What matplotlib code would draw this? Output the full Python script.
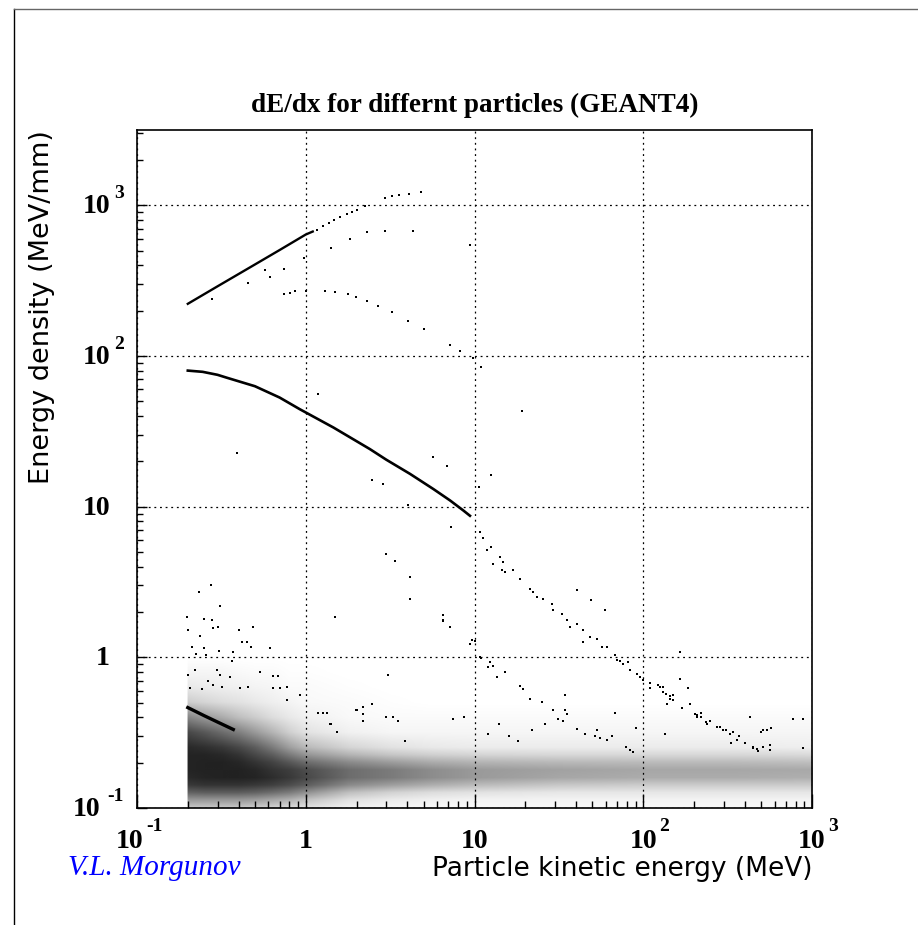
import numpy as np
import matplotlib
matplotlib.use("Agg")
import matplotlib.pyplot as plt
from matplotlib.colors import LinearSegmentedColormap, Normalize
from matplotlib.image import NonUniformImage
from matplotlib.lines import Line2D
from matplotlib.ticker import LogLocator, NullFormatter

# ---- data (energy in MeV, dE/dx in MeV/mm) ----
# continuous parts of the tracks
alpha_line_e = [0.2, 0.3, 0.5, 0.7, 1.0, 1.1]
alpha_line_dedx = [222, 290, 405, 505, 640, 670]
proton_line_e = [0.2, 0.245, 0.3, 0.34, 0.5, 0.7, 0.92, 1.46, 2.4, 3.0, 4.15, 5.7, 7.16, 8.6, 9.4]
proton_line_dedx = [80, 78.5, 75, 71.8, 63, 53, 44.4, 33.5, 24.1, 20.5, 16.5, 13.1, 11.0, 9.42, 8.7]
low_line_e = [0.2, 0.25, 0.3, 0.372]
low_line_dedx = [0.464, 0.41, 0.372, 0.332]

# dotted parts of the tracks
a_dots_e = [1.16, 1.27, 1.37, 1.47, 1.6, 1.75, 1.88, 2.0, 2.24, 2.95, 3.23, 3.58, 4.1, 4.8]
a_dots_dedx = [690, 726, 765, 800, 833, 873, 905, 937, 995, 1117, 1148, 1164, 1190, 1220]
b_dots_e = [0.277, 0.457, 0.574, 0.614, 0.743, 0.97, 1.41, 1.83, 2.30, 2.95, 4.3, 9.4]
b_dots_dedx = [238, 306, 372, 335, 377, 444, 521, 600, 663, 673, 680, 543]
c_dots_e = [0.743, 0.807, 0.86, 1.0, 1.30, 1.49, 1.79, 1.99, 2.32, 2.69, 3.23, 4.06,
            5.02, 7.16, 8.2, 9.8, 11.0, 19.0]
c_dots_dedx = [256, 263, 268, 272, 269, 265, 256, 246, 233, 214, 196, 170,
               150, 119, 108, 97.6, 85, 43]
d_dots_e = [10.8, 11.3, 11.8, 12.6, 12.9, 14.2, 14.8, 14.5, 15.2, 17, 18.6, 21.3, 22.3, 23.4,
            25.5, 28.6, 29.3, 32.8, 35.2, 36.8, 40.3, 44.2, 44.2, 48.4, 53, 56.6, 60.6, 68,
            69.5, 72.8, 76, 81.5, 83.4, 91.4, 95.5, 100, 110, 123, 131, 137, 144, 151, 164,
            169, 185, 189, 203, 207, 219, 237, 248, 272, 285, 298, 327, 342, 357, 430, 449,
            470, 514, 564, 570, 880,
            126, 131, 144, 151, 139, 207, 219, 240, 272, 310, 330, 370, 400, 450, 480, 510,
            560, 540, 500]
d_dots_dedx = [6.77, 6.24, 5.12, 5.37, 4.16, 4.61, 4.27, 3.77, 3.67, 3.77, 3.32, 2.85, 2.71, 2.5,
               2.44, 2.26, 2.05, 1.94, 1.76, 1.59, 1.67, 1.51, 1.26, 1.36, 1.33, 1.17, 1.17, 1.03,
               0.955, 0.95, 0.91, 0.93, 0.82, 0.78, 0.74, 0.705, 0.68, 0.66, 0.635, 0.574, 0.53,
               0.56, 0.72, 0.46, 0.63, 0.49, 0.42, 0.413, 0.43, 0.37, 0.38, 0.345, 0.345, 0.33,
               0.31, 0.32, 0.282, 0.40, 0.255, 0.248, 0.33, 0.242, 0.34, 0.25,
               0.64, 0.59, 0.55, 0.52, 0.49, 0.40, 0.40, 0.36, 0.345, 0.33, 0.27, 0.30, 0.27,
               0.25, 0.24, 0.255, 0.26, 0.33, 0.32]
e_dots_e = [12.4, 12.8, 15.1, 18.6, 19.3, 21.3, 25, 29.3, 31.4, 33.5, 34.5, 35.2, 40.3, 51.8,
            53, 55.5, 60.6, 79, 83.4, 87]
e_dots_dedx = [0.93, 0.88, 0.80, 0.65, 0.62, 0.53, 0.506, 0.45, 0.39, 0.38, 0.45, 0.42, 0.337,
               0.30, 0.33, 0.29, 0.282, 0.255, 0.242, 0.235]
f_dots_e = [3.0, 3.37, 4.15, 4.15, 6.47, 6.5, 6.5, 7.16, 9.4, 9.6, 10, 10.8, 11, 12.1, 13.6]
f_dots_dedx = [4.86, 4.38, 3.4, 2.44, 1.73, 1.9, 1.76, 1.58, 1.22, 1.3, 1.29, 1.0, 0.99, 0.86, 0.74]

# single stray dots
stray_e = [0.39, 1.18, 5.7, 6.9, 2.46, 2.88, 12.6, 10.7, 7.3, 4.05, 1.49, 40.3, 49, 59, 164,
           0.274, 0.234, 0.31, 0.199, 0.249, 0.28, 0.283, 0.303, 0.201, 0.404, 0.485, 0.236,
           0.417, 0.447, 0.211, 0.249, 0.477, 0.613, 0.307, 0.369, 0.225, 0.258, 0.364,
           0.221, 0.296, 0.536, 0.643, 0.688, 0.31, 0.2, 0.356, 0.265, 0.283, 0.318, 0.408,
           0.456, 0.242, 0.206, 0.643, 0.70, 0.77, 0.92, 0.77, 1.19, 1.33, 1.39, 1.53,
           1.27, 2.0, 2.18, 2.18, 2.18, 2.46, 3.0, 3.3, 3.5, 3.86, 1.98, 7.5, 8.7, 3.08, 1.41,
           773, 880, 514, 134, 34.4, 68, 164, 185, 110, 123, 151,
           14, 16, 22, 26, 45, 65, 90, 18, 12]
stray_dedx = [22.8, 56, 21.4, 18.5, 15.1, 14.1, 16.2, 13.6, 7.35, 10.2, 1.85, 2.8, 2.42, 2.05, 1.08,
              3.04, 2.70, 2.19, 1.85, 1.80, 1.76, 1.57, 1.60, 1.51, 1.52, 1.58, 1.38,
              1.26, 1.27, 1.18, 1.16, 1.18, 1.16, 1.11, 1.08, 1.06, 1.03, 0.95,
              0.82, 0.82, 0.80, 0.75, 0.75, 0.76, 0.76, 0.74, 0.70, 0.66, 0.64, 0.63,
              0.64, 0.62, 0.63, 0.63, 0.63, 0.64, 0.56, 0.52, 0.43, 0.43, 0.36, 0.32,
              0.43, 0.45, 0.47, 0.42, 0.38, 0.49, 0.40, 0.40, 0.38, 0.28, 0.45, 0.39, 0.40, 0.76, 0.36,
              0.39, 0.39, 0.33, 0.31, 0.56, 0.43, 0.72, 0.63, 0.63, 0.66, 0.56,
              0.36, 0.30, 0.33, 0.36, 0.31, 0.30, 0.34, 0.28, 0.31]

# dense low band: estimated darkness of the dot cloud on a coarse grid
# (first column is the empty side just left of the 0.2 MeV cut)
cloud_e = [0.196, 0.2, 0.25, 0.32, 0.4, 0.5, 0.63, 0.8, 1.0, 1.8, 3.2, 5.6, 10, 32, 100, 320, 1000]
cloud_dedx = [0.1, 0.112, 0.126, 0.141, 0.158, 0.178, 0.2, 0.224, 0.251, 0.316, 0.398,
              0.501, 0.631, 0.794, 1.0]
cloud_density = [
    [0, .22, .22, .22, .22, .20, .18, .15, .12, .06, .04, .03, .03, .03, .03, .03, .03],
    [0, .40, .40, .40, .40, .38, .34, .30, .24, .12, .08, .06, .05, .05, .05, .05, .05],
    [0, .62, .64, .64, .64, .62, .58, .52, .44, .26, .18, .14, .12, .10, .10, .10, .10],
    [0, .78, .80, .80, .80, .78, .75, .70, .64, .46, .38, .32, .27, .22, .21, .21, .21],
    [0, .84, .86, .87, .87, .86, .83, .78, .72, .58, .52, .45, .40, .35, .33, .33, .32],
    [0, .86, .87, .87, .87, .85, .80, .76, .70, .58, .52, .45, .40, .37, .35, .35, .34],
    [0, .86, .87, .87, .85, .80, .74, .66, .58, .46, .39, .33, .30, .28, .27, .27, .26],
    [0, .86, .86, .84, .80, .72, .64, .52, .42, .30, .23, .19, .17, .16, .16, .16, .15],
    [0, .84, .82, .78, .72, .64, .52, .38, .28, .17, .12, .09, .08, .08, .08, .08, .07],
    [0, .72, .66, .58, .50, .40, .30, .19, .12, .06, .04, .04, .04, .04, .04, .04, .04],
    [0, .48, .40, .33, .26, .20, .14, .09, .06, .03, .02, .02, .02, .02, .02, .02, .02],
    [0, .20, .17, .14, .12, .09, .07, .05, .03, .02, .01, 0, 0, 0, 0, 0, 0],
    [0, .09, .08, .07, .06, .05, .04, .02, .02, .01, 0, 0, 0, 0, 0, 0, 0],
    [0, .04, .04, .04, .03, .02, .02, .01, .01, 0, 0, 0, 0, 0, 0, 0, 0],
    [0, 0, 0, 0, 0, 0, 0, 0, 0, 0, 0, 0, 0, 0, 0, 0, 0],
]

tick_vals = [0.1, 1, 10, 100, 1000]
tick_base = ['10', '1', '10', '10', '10']
tick_exp = ['-1', '', '', '2', '3']

# ---- figure ----
W, H = 918, 925
fig = plt.figure(figsize=(W / 100, H / 100), dpi=100)
rect = [137 / W, 1 - 808 / H, 675 / W, 678 / H]

# helper axes in log10 units holding the smooth picture of the dense cloud
axc = fig.add_axes(rect, zorder=0)
axc.set_xlim(-1, 3)
axc.set_ylim(-1, np.log10(3162))
axc.axis('off')
dots = LinearSegmentedColormap.from_list('dots', [(0, 0, 0, 0), (0, 0, 0, 1)])
im = NonUniformImage(axc, interpolation='bilinear', cmap=dots, norm=Normalize(0, 1),
                     extent=(-1, 3, -1, np.log10(3162)))
im.set_data(np.log10(cloud_e), np.log10(cloud_dedx), np.array(cloud_density))
axc.add_image(im)

ax = fig.add_axes(rect, zorder=1)
ax.patch.set_visible(False)
ax.set_xscale('log')
ax.set_yscale('log')
ax.set_xlim(0.1, 1000)
ax.set_ylim(0.1, 3162)
ax.grid(True, which='major', ls=(0, (1.5, 3)), lw=0.9, color='k', zorder=1)

ax.plot(alpha_line_e, alpha_line_dedx, 'k-', lw=1.7, zorder=3)
ax.plot(proton_line_e, proton_line_dedx, 'k-', lw=1.9, zorder=3)
ax.plot(low_line_e, low_line_dedx, 'k-', lw=2.4, zorder=3)
for xs, ys in [(a_dots_e, a_dots_dedx), (b_dots_e, b_dots_dedx), (c_dots_e, c_dots_dedx),
               (d_dots_e, d_dots_dedx), (e_dots_e, e_dots_dedx), (f_dots_e, f_dots_dedx),
               (stray_e, stray_dedx)]:
    ax.scatter(xs, ys, s=2.4, c='k', marker='s', linewidths=0, zorder=3)

# ROOT-like axes: ticks inside, only bottom and left
ax.xaxis.set_minor_locator(LogLocator(base=10, subs=np.arange(2, 10)))
ax.yaxis.set_minor_locator(LogLocator(base=10, subs=np.arange(2, 10)))
ax.xaxis.set_minor_formatter(NullFormatter())
ax.yaxis.set_minor_formatter(NullFormatter())
ax.tick_params(which='both', direction='in', top=False, right=False,
               labelbottom=False, labelleft=False, width=1)
ax.tick_params(axis='x', which='major', length=10)
ax.tick_params(axis='x', which='minor', length=5)
ax.tick_params(axis='y', which='major', length=7)
ax.tick_params(axis='y', which='minor', length=4)
for sp in ax.spines.values():
    sp.set_linewidth(1.2)

bold = dict(family='Liberation Serif', weight='bold')
for v, b, e in zip(tick_vals, tick_base, tick_exp):
    dx = -7 if e == '-1' else 0
    ax.annotate(b, xy=(v, 0), xycoords=ax.get_xaxis_transform(), xytext=(dx, -40),
                textcoords='offset pixels', ha='center', va='baseline', size=20, **bold)
    if e:
        ax.annotate(e, xy=(v, 0), xycoords=ax.get_xaxis_transform(), xytext=(dx + 16, -23),
                    textcoords='offset pixels', ha='left', va='baseline', size=14, **bold)
    dxy = -37 if e == '-1' else -27
    ax.annotate(b, xy=(0, v), xycoords=ax.get_yaxis_transform(), xytext=(dxy, -8),
                textcoords='offset pixels', ha='right', va='baseline', size=20, **bold)
    if e:
        ax.annotate(e, xy=(0, v), xycoords=ax.get_yaxis_transform(),
                    xytext=(-30 if e == '-1' else -23, 7),
                    textcoords='offset pixels', ha='left', va='baseline', size=14, **bold)

fig.text(474.5 / W, 1 - 112 / H, 'dE/dx for differnt particles (GEANT4)', ha='center',
         va='baseline', size=19.5, **bold)
fig.text(812 / W, 1 - 876 / H, 'Particle kinetic energy (MeV)', ha='right', va='baseline',
         family='DejaVu Sans', size=19)
fig.text(42 / W, 1 - 130 / H, 'Energy density (MeV/mm)', rotation=90, ha='center', va='top',
         family='DejaVu Sans', size=19.5)
fig.text(68 / W, 1 - 875 / H, 'V.L. Morgunov', color='#0000ff', style='italic',
         family='Liberation Serif', size=21, va='baseline')

# outer frame (left and top edges)
fig.add_artist(Line2D([14 / W, 14 / W], [0, 1 - 9 / H], transform=fig.transFigure, color='k', lw=1))
fig.add_artist(Line2D([14 / W, 1], [1 - 9 / H, 1 - 9 / H], transform=fig.transFigure, color='0.4', lw=1))

fig.savefig('out.png', dpi=100)
